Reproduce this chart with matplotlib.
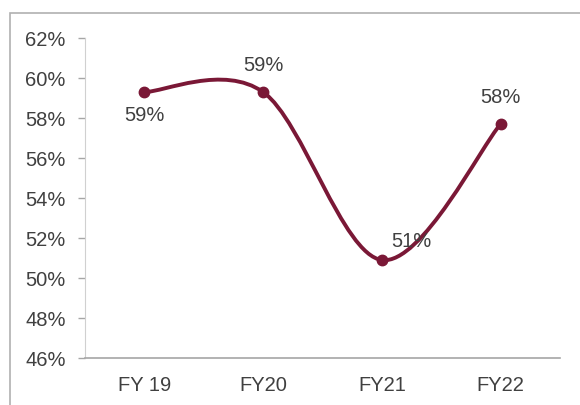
import numpy as np
import matplotlib.pyplot as plt
from matplotlib.path import Path
from matplotlib.patches import PathPatch, Rectangle

# data
years = ['FY 19', 'FY20', 'FY21', 'FY22']
margin = [59.3, 59.3, 50.9, 57.7]
labels = ['59%', '59%', '51%', '58%']
yticks = [46, 48, 50, 52, 54, 56, 58, 60, 62]

LINE = '#7a1836'
TXT = '#404040'
AX = '#a6a6a6'

plt.rcParams['font.family'] = ['Liberation Sans', 'DejaVu Sans']

fig = plt.figure(figsize=(5.8, 4.05), dpi=100)
ax = fig.add_axes([0.1466, 0.116, 0.8189, 0.790])

x = np.arange(len(years)) + 0.5
y = np.array(margin)

# smoothed line (Excel-like bezier through the points)
verts = [(x[0], y[0])]
codes = [Path.MOVETO]
n = len(x)
for i in range(n - 1):
    p0 = np.array([x[max(i - 1, 0)], y[max(i - 1, 0)]])
    p1 = np.array([x[i], y[i]])
    p2 = np.array([x[i + 1], y[i + 1]])
    p3 = np.array([x[min(i + 2, n - 1)], y[min(i + 2, n - 1)]])
    c1 = p1 + (p2 - p0) / 6
    c2 = p2 - (p3 - p1) / 6
    verts += [tuple(c1), tuple(c2), tuple(p2)]
    codes += [Path.CURVE4] * 3
ax.add_patch(PathPatch(Path(verts, codes), fill=False, edgecolor=LINE, lw=2.8, zorder=3))
ax.plot(x, y, 'o', color=LINE, ms=7.5, zorder=4)

# data labels
offsets = [(0, -17), (0, 19), (21, 13), (0, 19)]
for xi, yi, lab, (dx, dy) in zip(x, y, labels, offsets):
    ax.annotate(lab, (xi, yi), xytext=(dx, dy), textcoords='offset points',
                ha='center', va='center', fontsize=14.5, color=TXT)

ax.set_xlim(0, 4)
ax.set_ylim(46, 62)
ax.set_xticks(x)
ax.set_xticklabels(years)
ax.set_yticks(yticks)
ax.set_yticklabels([f'{t}%' for t in yticks])
ax.tick_params(axis='x', length=0, pad=13, labelsize=14.5, labelcolor=TXT)
ax.tick_params(axis='y', length=5, width=1, color=AX, pad=9, labelsize=14.5, labelcolor=TXT)

for s in ['top', 'right']:
    ax.spines[s].set_visible(False)
ax.spines['left'].set_color('#d0d0d0')
ax.spines['bottom'].set_color(AX)
ax.spines['bottom'].set_linewidth(1.2)

# outer frame
fig.patches.append(Rectangle((10 / 580, -0.05), 1.2, (405 - 13) / 405 + 0.05,
                             transform=fig.transFigure, fill=False,
                             edgecolor='#b0b0b0', lw=1.2))

plt.savefig('out.png', dpi=100)
